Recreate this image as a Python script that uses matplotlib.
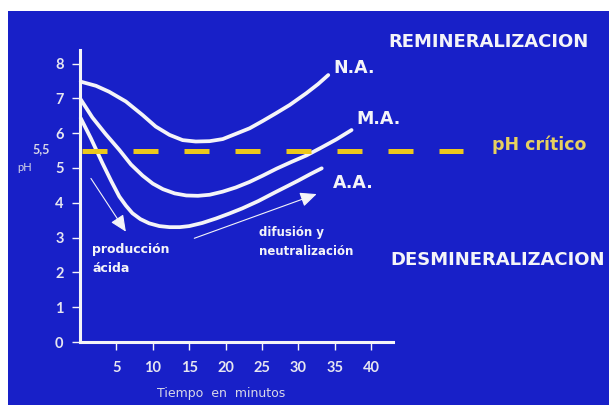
import matplotlib
matplotlib.use("Agg")
import matplotlib.pyplot as plt

# values (time in minutes, pH)
na_t = [0.1, 2.2, 4.0, 6.3, 8.6, 10.4, 12.3, 14.1, 15.9, 17.8, 19.6, 21.4, 23.3,
        25.1, 26.9, 28.8, 31.1, 32.7, 34.1]
na_ph = [7.48, 7.36, 7.19, 6.91, 6.52, 6.19, 5.95, 5.80, 5.76, 5.77, 5.83, 5.98, 6.14,
         6.35, 6.57, 6.81, 7.15, 7.41, 7.67]

ma_t = [0.1, 1.7, 3.5, 5.4, 7.0, 8.6, 10.0, 11.4, 13.0, 14.6, 16.2, 17.8, 19.6,
        21.4, 23.3, 25.1, 27.0, 29.0, 31.1, 33.1, 35.2, 37.3]
ma_ph = [6.97, 6.45, 5.98, 5.52, 5.10, 4.78, 4.55, 4.39, 4.27, 4.21, 4.20, 4.23, 4.32,
         4.44, 4.60, 4.78, 4.98, 5.17, 5.36, 5.58, 5.82, 6.09]

aa_t = [0.1, 1.5, 3.1, 4.3, 5.4, 6.3, 7.2, 8.3, 9.5, 10.9, 12.3, 13.7, 15.0, 16.8,
        18.7, 20.5, 22.3, 24.5, 26.8, 28.5, 30.0, 31.6, 33.2]
aa_ph = [6.43, 5.85, 5.13, 4.62, 4.18, 3.92, 3.70, 3.53, 3.41, 3.33, 3.30, 3.30, 3.33, 3.42,
         3.55, 3.69, 3.84, 4.05, 4.30, 4.48, 4.64, 4.82, 4.99]

ph_critico = 5.5
xticks = [5, 10, 15, 20, 25, 30, 35, 40]
yticks = [0, 1, 2, 3, 4, 5, 6, 7, 8]

blue = '#1820c8'
white = '#f4f4f8'
yellow = '#ecc81c'

plt.rcParams['font.family'] = ['Lato', 'DejaVu Sans']
big = ['DejaVu Sans']

fig = plt.figure(figsize=(6.09, 4.05), dpi=100)
fig.patch.set_facecolor('white')

# blue slide area, white margin top and left
ax = fig.add_axes([8 / 609, 0, 601 / 609, 394 / 405])
ax.set_facecolor(blue)
ax.set_xlim(-9.89, 72.66)
ax.set_ylim(-1.81, 9.51)

for s in ['top', 'right']:
    ax.spines[s].set_visible(False)
ax.spines['left'].set_position(('data', 0))
ax.spines['bottom'].set_position(('data', 0))
ax.spines['left'].set_bounds(0, 8.39)
ax.spines['bottom'].set_bounds(0, 43)
for s in ['left', 'bottom']:
    ax.spines[s].set_color(white)
    ax.spines[s].set_linewidth(2.2)

ax.set_xticks(xticks)
ax.set_yticks(yticks)
ax.tick_params(axis='both', colors=white, width=1.0, length=5.8, direction='out')
ax.tick_params(axis='x', pad=8.0, labelsize=10.5)
ax.tick_params(axis='y', pad=6.0, labelsize=10.5)
for lab in ax.get_xticklabels() + ax.get_yticklabels():
    lab.set_fontweight('bold')
    lab.set_color('#e6e6f0')

# curves
for t, ph in [(na_t, na_ph), (ma_t, ma_ph), (aa_t, aa_ph)]:
    ax.plot(t, ph, color=white, lw=2.7, solid_capstyle='round', solid_joinstyle='round')

# critical pH line
ax.plot([0.27, 52.6], [ph_critico, ph_critico], color=yellow, lw=3.6,
        dashes=(5, 5.2), zorder=3)

# arrows
arrow = dict(arrowstyle='-|>,head_length=1.0,head_width=0.45', color=white, lw=0.8,
             mutation_scale=10, shrinkA=0, shrinkB=0)
ax.annotate('', xy=(6.3, 3.17), xytext=(1.5, 4.7), arrowprops=arrow)
ax.annotate('', xy=(32.5, 4.25), xytext=(15.7, 2.98), arrowprops=arrow)

# labels
ax.text(34.75, 7.87, 'N.A.', color=white, fontsize=12.5, fontweight='bold', va='center', family=big)
ax.text(37.9, 6.41, 'M.A.', color=white, fontsize=12.5, fontweight='bold', va='center', family=big)
ax.text(34.75, 4.57, 'A.A.', color=white, fontsize=12.5, fontweight='bold', va='center', family=big)

ax.text(56.6, 5.66, 'pH crítico', color='#e6d060', fontsize=12.5, fontweight='bold',
        va='center', family=big)
ax.text(42.3, 8.62, 'REMINERALIZACION', color=white, fontsize=13, fontweight='bold',
        va='center', family=big)
ax.text(42.6, 2.36, 'DESMINERALIZACION', color=white, fontsize=13, fontweight='bold',
        va='center', family=big)

ax.text(1.65, 2.67, 'producción', color=white, fontsize=9, fontweight='bold', va='center', family=big)
ax.text(1.65, 2.10, 'ácida', color=white, fontsize=9, fontweight='bold', va='center', family=big)
ax.text(24.6, 3.16, 'difusión y', color=white, fontsize=8.5, fontweight='bold', va='center', family=big)
ax.text(24.6, 2.59, 'neutralización', color=white, fontsize=8.5, fontweight='bold',
        va='center', family=big)

ax.text(-4.1, 5.55, '5,5', color='#d8d8e8', fontsize=9, fontweight='bold', ha='right', va='center')
ax.text(-7.6, 5.0, 'pH', color='#d8d8e8', fontsize=8, ha='center', va='center')
ax.text(19.4, -1.47, 'Tiempo  en  minutos', color='#d8d8e8', fontsize=9, ha='center',
        va='center', family=big)

fig.savefig('out.png', dpi=100)
